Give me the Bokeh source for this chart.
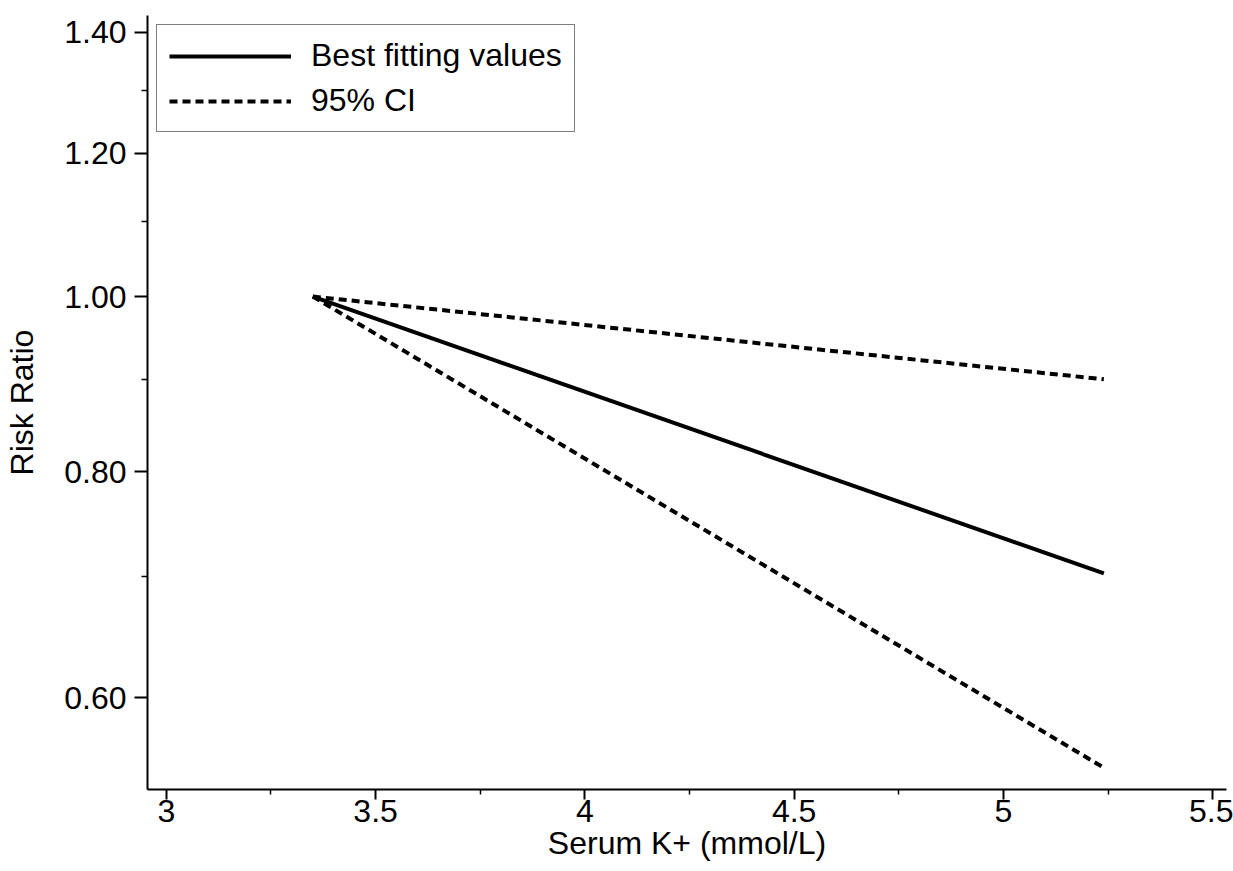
from bokeh.plotting import figure
from bokeh.models import Range1d, FixedTicker, NumeralTickFormatter, Legend, LegendItem
from bokeh.embed import file_html
from bokeh.resources import INLINE

# Data
serum_k = [3.35, 5.24]
rr_best = [1.00, 0.703]
rr_upper = [1.00, 0.900]
rr_lower = [1.00, 0.549]

x_ticks = [3.0, 3.5, 4.0, 4.5, 5.0, 5.5]
x_minor = [3.25, 3.75, 4.25, 4.75, 5.25]
y_ticks = [0.60, 0.80, 1.00, 1.20, 1.40]
y_minor = [0.70, 0.90, 1.10, 1.30]

FONT = "Liberation Sans"
FS = "32px"

p = figure(width=1233, height=871, output_backend="svg", toolbar_location=None,
           y_axis_type="log",
           x_range=Range1d(2.955, 5.533), y_range=Range1d(0.534, 1.430),
           min_border_left=147, min_border_right=7, min_border_top=15, min_border_bottom=82)

p.outline_line_color = None
p.xgrid.visible = False
p.ygrid.visible = False
p.background_fill_color = "white"
p.border_fill_color = "white"

r_best = p.line(serum_k, rr_best, line_color="black", line_width=4)
r_up = p.line(serum_k, rr_upper, line_color="black", line_width=4, line_dash="8 5")
r_lo = p.line(serum_k, rr_lower, line_color="black", line_width=4, line_dash="8 5")

# axes
for ax in (p.xaxis[0], p.yaxis[0]):
    ax.axis_line_width = 2
    ax.axis_line_color = "black"
    ax.major_tick_line_width = 2
    ax.minor_tick_line_width = 1.5
    ax.major_tick_in = 0
    ax.minor_tick_in = 0
    ax.major_label_text_font = FONT
    ax.major_label_text_font_size = FS
    ax.major_label_text_color = "black"
    ax.axis_label_text_font = FONT
    ax.axis_label_text_font_size = FS
    ax.axis_label_text_font_style = "normal"
    ax.axis_label_text_color = "black"

p.xaxis.ticker = FixedTicker(ticks=x_ticks, minor_ticks=x_minor)
p.xaxis.axis_label = "Serum K+ (mmol/L)"
p.xaxis.major_tick_out = 10
p.xaxis.minor_tick_out = 5
p.xaxis.major_label_standoff = 0
p.xaxis.axis_label_standoff = 0

p.yaxis.ticker = FixedTicker(ticks=y_ticks, minor_ticks=y_minor)
p.yaxis.formatter = NumeralTickFormatter(format="0.00")
p.yaxis.axis_label = "Risk Ratio"
p.yaxis.major_tick_out = 13
p.yaxis.minor_tick_out = 6
p.yaxis.major_label_standoff = 8
p.yaxis.axis_label_standoff = 21

legend = Legend(items=[LegendItem(label="Best fitting values", renderers=[r_best]),
                       LegendItem(label="95% CI", renderers=[r_up])],
                location="top_left")
legend.margin = 9
legend.padding = 12
legend.spacing = 8
legend.glyph_width = 122
legend.glyph_height = 36
legend.label_height = 36
legend.label_standoff = 20
legend.label_text_font = FONT
legend.label_text_font_size = FS
legend.label_text_color = "black"
legend.border_line_color = "black"
legend.border_line_width = 1.5
legend.background_fill_alpha = 1
p.add_layout(legend)

open("out.html", "w").write(file_html(p, INLINE))
